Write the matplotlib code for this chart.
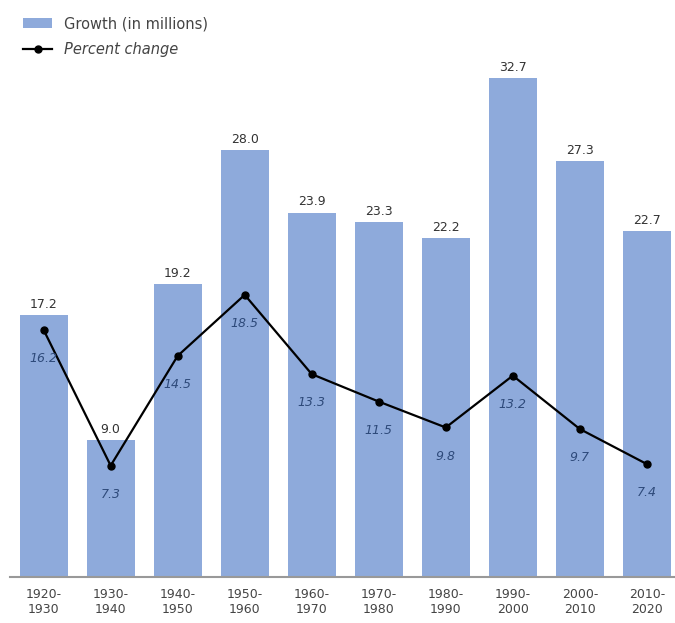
import matplotlib.pyplot as plt
import numpy as np

# decade periods
periods = ['1920-\n1930', '1930-\n1940', '1940-\n1950', '1950-\n1960', '1960-\n1970',
           '1970-\n1980', '1980-\n1990', '1990-\n2000', '2000-\n2010', '2010-\n2020']
growth = [17.2, 9.0, 19.2, 28.0, 23.9, 23.3, 22.2, 32.7, 27.3, 22.7]
pct_change = [16.2, 7.3, 14.5, 18.5, 13.3, 11.5, 9.8, 13.2, 9.7, 7.4]

x = np.arange(len(periods))

fig = plt.figure(figsize=(6.75, 6.23), dpi=100)
ax = fig.add_axes([0.015, 0.074, 0.985, 0.832])

bars = ax.bar(x, growth, width=0.72, color='#8eaadb', label='Growth (in millions)')
line, = ax.plot(x, pct_change, color='black', marker='o', markersize=5, linewidth=1.6,
                label='Percent change')

# bar value labels
for xi, v in zip(x, growth):
    ax.annotate(f'{v:.1f}', (xi, v), xytext=(0, 3), textcoords='offset points',
                ha='center', va='bottom', fontsize=9, color='#333333')

# percent labels under the points
for xi, v in zip(x, pct_change):
    ax.annotate(f'{v:.1f}', (xi, v), xytext=(0, -16), textcoords='offset points',
                ha='center', va='top', fontsize=9, color='#2e4a7a', style='italic')

ax.set_xlim(-0.5, 9.42)
ax.set_ylim(0, 34)
ax.set_xticks(x)
ax.set_xticklabels(periods, fontsize=9, color='#444444')
ax.set_yticks([])
ax.tick_params(axis='x', length=0, pad=8)
for side in ['top', 'right', 'left']:
    ax.spines[side].set_visible(False)
ax.spines['bottom'].set_color('#999999')
ax.spines['bottom'].set_linewidth(1.5)

leg = fig.legend(handles=[bars, line], loc='upper left', bbox_to_anchor=(0.015, 0.995),
                 frameon=False, fontsize=10.5, handlelength=2.0, labelspacing=0.75)
for t in leg.get_texts():
    t.set_color('#444444')
leg.get_texts()[1].set_style('italic')

fig.savefig('out.png', dpi=100)
